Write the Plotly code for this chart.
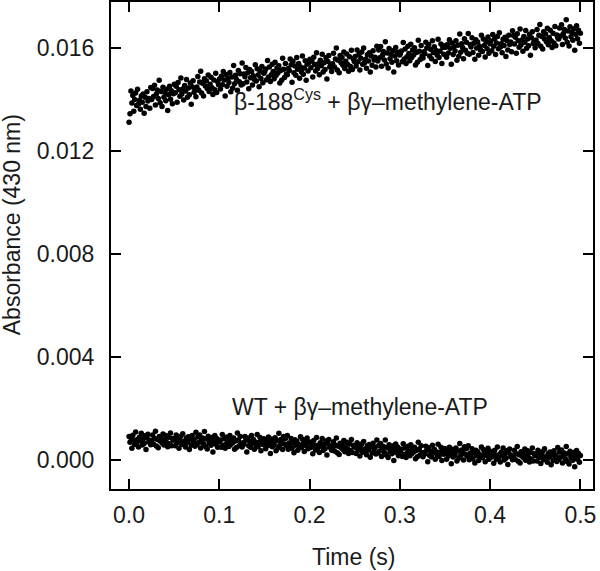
import numpy as np
import plotly.graph_objects as go

# Absorbance values, in units of 1e-5 absorbance,
# in time order (uniform sampling 0 - 0.5 s)
beta188_abs_1e5 = [
    1312, 1345, 1433, 1387, 1416, 1355, 1400, 1425, 1377, 1440, 1383, 1397, 1362, 1414, 1390, 1422, 1347, 1409, 1373, 1430, 1394, 1404, 1366, 1447,
    1400, 1443, 1412, 1456, 1379, 1422, 1437, 1404, 1475, 1388, 1431, 1373, 1448, 1409, 1426, 1395, 1440, 1357, 1419, 1452, 1401, 1434, 1384, 1423,
    1459, 1426, 1452, 1390, 1466, 1438, 1413, 1484, 1422, 1441, 1398, 1455, 1433, 1478, 1409, 1445, 1419, 1464, 1382, 1450, 1473, 1428, 1436, 1411,
    1449, 1490, 1436, 1468, 1510, 1425, 1463, 1414, 1481, 1453, 1473, 1443, 1495, 1431, 1459, 1487, 1446, 1420, 1476, 1438, 1502, 1427, 1469, 1458,
    1480, 1441, 1491, 1458, 1509, 1476, 1414, 1497, 1452, 1483, 1466, 1505, 1430, 1488, 1445, 1532, 1461, 1494, 1479, 1436, 1513, 1469, 1500, 1457,
    1542, 1461, 1499, 1489, 1525, 1468, 1504, 1442, 1517, 1485, 1509, 1457, 1492, 1478, 1535, 1472, 1520, 1495, 1450, 1511, 1482, 1528, 1465, 1502,
    1508, 1519, 1477, 1552, 1488, 1526, 1470, 1496, 1537, 1509, 1481, 1545, 1493, 1523, 1503, 1531, 1464, 1513, 1475, 1560, 1518, 1486, 1540, 1499,
    1496, 1521, 1513, 1558, 1535, 1467, 1549, 1504, 1530, 1494, 1563, 1518, 1540, 1483, 1526, 1507, 1569, 1498, 1523, 1551, 1475, 1537, 1511, 1544,
    1557, 1524, 1550, 1488, 1564, 1536, 1511, 1582, 1520, 1539, 1496, 1553, 1531, 1576, 1507, 1543, 1517, 1562, 1480, 1548, 1571, 1526, 1534, 1509,
    1539, 1580, 1526, 1558, 1600, 1515, 1553, 1504, 1571, 1543, 1563, 1533, 1585, 1521, 1549, 1577, 1536, 1510, 1566, 1528, 1592, 1517, 1559, 1548,
    1567, 1530, 1593, 1547, 1576, 1515, 1560, 1585, 1537, 1600, 1543, 1557, 1522, 1574, 1550, 1582, 1507, 1569, 1533, 1590, 1554, 1564, 1526, 1607,
    1550, 1593, 1562, 1606, 1529, 1572, 1587, 1554, 1625, 1538, 1581, 1523, 1598, 1559, 1576, 1545, 1590, 1507, 1569, 1602, 1551, 1584, 1534, 1573,
    1578, 1589, 1547, 1622, 1558, 1596, 1540, 1566, 1607, 1579, 1551, 1615, 1563, 1593, 1573, 1601, 1534, 1583, 1545, 1630, 1588, 1556, 1610, 1569,
    1561, 1586, 1578, 1623, 1600, 1532, 1614, 1569, 1595, 1559, 1628, 1583, 1605, 1548, 1591, 1572, 1634, 1563, 1588, 1616, 1540, 1602, 1576, 1609,
    1603, 1564, 1614, 1581, 1632, 1599, 1537, 1620, 1575, 1606, 1589, 1628, 1553, 1611, 1568, 1655, 1584, 1617, 1602, 1559, 1636, 1592, 1623, 1580,
    1657, 1576, 1614, 1604, 1640, 1583, 1619, 1557, 1632, 1600, 1624, 1572, 1607, 1593, 1650, 1587, 1635, 1610, 1565, 1626, 1597, 1643, 1580, 1617,
    1627, 1590, 1653, 1607, 1636, 1575, 1620, 1645, 1597, 1660, 1603, 1617, 1582, 1634, 1610, 1642, 1567, 1629, 1593, 1650, 1614, 1624, 1586, 1667,
    1649, 1616, 1642, 1580, 1656, 1628, 1603, 1674, 1612, 1631, 1588, 1645, 1623, 1668, 1599, 1635, 1609, 1654, 1572, 1640, 1663, 1618, 1626, 1601,
    1631, 1672, 1618, 1650, 1692, 1607, 1645, 1596, 1663, 1635, 1655, 1625, 1677, 1613, 1641, 1669, 1628, 1602, 1658, 1620, 1684, 1609, 1651, 1640,
    1635, 1678, 1647, 1691, 1614, 1657, 1672, 1639, 1710, 1623, 1666, 1608, 1683, 1644, 1661, 1630, 1675, 1592, 1654, 1687, 1636, 1669, 1619, 1658,
]

wt_abs_1e5 = [
    91, 69, 86, 45, 96, 77, 60, 108, 66, 79, 50, 88, 74, 104, 58, 82, 64, 94, 40, 85, 100, 70, 76, 59,
    70, 97, 61, 83, 111, 54, 79, 47, 91, 73, 86, 66, 101, 58, 77, 95, 68, 51, 88, 63, 105, 55, 83, 76,
    80, 55, 97, 67, 86, 45, 75, 92, 60, 102, 64, 73, 50, 85, 69, 90, 40, 81, 57, 95, 71, 78, 53, 107,
    60, 89, 68, 97, 46, 75, 85, 63, 110, 52, 81, 42, 92, 66, 77, 57, 87, 31, 73, 95, 61, 83, 49, 75,
    70, 77, 49, 99, 57, 82, 45, 62, 89, 71, 52, 95, 60, 80, 67, 85, 41, 73, 48, 105, 77, 55, 91, 64,
    50, 67, 61, 91, 76, 31, 85, 55, 73, 49, 95, 65, 79, 41, 70, 57, 99, 51, 68, 87, 36, 77, 60, 82,
    69, 43, 77, 55, 89, 67, 25, 81, 51, 71, 60, 86, 36, 75, 46, 104, 57, 79, 69, 40, 91, 62, 83, 54,
    95, 41, 66, 59, 83, 45, 69, 28, 78, 57, 73, 38, 61, 52, 90, 48, 80, 63, 33, 74, 55, 85, 43, 68,
    70, 48, 65, 24, 75, 56, 39, 87, 45, 58, 29, 67, 53, 83, 37, 61, 43, 73, 19, 64, 79, 49, 55, 38,
    44, 71, 35, 57, 85, 28, 53, 21, 65, 47, 60, 40, 75, 32, 51, 69, 42, 25, 62, 37, 79, 29, 57, 50,
    50, 25, 67, 37, 56, 15, 45, 62, 30, 72, 34, 43, 20, 55, 39, 60, 10, 51, 27, 65, 41, 48, 23, 77,
    27, 56, 35, 64, 13, 42, 52, 30, 77, 19, 48, 9, 59, 33, 44, 24, 54, -2, 40, 62, 28, 50, 16, 42,
    34, 41, 13, 63, 21, 46, 9, 26, 53, 35, 16, 59, 24, 44, 31, 49, 5, 37, 12, 69, 41, 19, 55, 28,
    12, 29, 23, 53, 38, -7, 47, 17, 35, 11, 57, 27, 41, 3, 32, 19, 61, 13, 30, 49, -2, 39, 22, 44,
    29, 3, 37, 15, 49, 27, -15, 41, 11, 31, 20, 46, -4, 35, 6, 64, 17, 39, 29, 0, 51, 22, 43, 14,
    55, 1, 26, 19, 43, 5, 29, -12, 38, 17, 33, -2, 21, 12, 50, 8, 40, 23, -7, 34, 15, 45, 3, 28,
    33, 11, 28, -13, 38, 19, 2, 50, 8, 21, -8, 30, 16, 46, 0, 24, 6, 36, -18, 27, 42, 12, 18, 1,
    11, 38, 2, 24, 52, -5, 20, -12, 32, 14, 27, 7, 42, -1, 18, 36, 9, -8, 29, 4, 46, -4, 24, 17,
    21, -4, 38, 8, 27, -14, 16, 33, 1, 43, 5, 14, -9, 26, 10, 31, -19, 22, -2, 36, 12, 19, -6, 48,
    2, 31, 10, 39, -12, 17, 27, 5, 52, -6, 23, -16, 34, 8, 19, -1, 29, -27, 15, 37, 3, 25, -9, 17,
]

# uniform instrument sampling from 0 to 0.5 s
t_start, t_end = 0.0, 0.5
time_beta = np.linspace(t_start, t_end, len(beta188_abs_1e5))
time_wt = np.linspace(t_start, t_end, len(wt_abs_1e5))

x_ticks = [0.0, 0.1, 0.2, 0.3, 0.4, 0.5]
x_ticklabels = ["0.0", "0.1", "0.2", "0.3", "0.4", "0.5"]
y_ticks = [0.000, 0.004, 0.008, 0.012, 0.016]
y_ticklabels = ["0.000", "0.004", "0.008", "0.012", "0.016"]

label_beta = "β-188<sup>Cys</sup> + βγ–methylene-ATP"
label_wt = "WT + βγ–methylene-ATP"
x_title = "Time (s)"
y_title = "Absorbance (430 nm)"

FONT = "Liberation Sans, Arial, sans-serif"
TXT = "#1a1a1a"
FS = 23

fig = go.Figure()
marker = dict(color="black", size=5.5, line=dict(width=0))
fig.add_trace(go.Scatter(x=time_beta, y=np.array(beta188_abs_1e5) * 1e-5,
                         mode="markers", marker=marker, showlegend=False))
fig.add_trace(go.Scatter(x=time_wt, y=np.array(wt_abs_1e5) * 1e-5,
                         mode="markers", marker=marker, showlegend=False))

fig.add_annotation(x=0.287, y=0.01398, text=label_beta, showarrow=False,
                   font=dict(size=FS, color=TXT, family=FONT))
fig.add_annotation(x=0.256, y=0.00206, text=label_wt, showarrow=False,
                   font=dict(size=FS, color=TXT, family=FONT))

# axis titles placed as paper annotations
fig.add_annotation(xref="paper", yref="paper", x=0.504, y=-0.1396, text=x_title,
                   xanchor="center", yanchor="middle",
                   showarrow=False, font=dict(size=FS, color=TXT, family=FONT))
fig.add_annotation(xref="paper", yref="paper", x=-0.205, y=0.542, text=y_title,
                   xanchor="center", yanchor="middle",
                   textangle=-90, showarrow=False, font=dict(size=FS, color=TXT, family=FONT))

axis_common = dict(
    showline=True, linecolor="black", linewidth=2, mirror="ticks",
    ticks="inside", ticklen=10, tickwidth=2, tickcolor="black",
    showgrid=False, zeroline=False, automargin=False,
    tickfont=dict(size=FS, color=TXT, family=FONT),
)

fig.update_xaxes(range=[-0.02, 0.514], tickvals=x_ticks, ticktext=x_ticklabels,
                 ticklabelstandoff=4, **axis_common)
fig.update_yaxes(range=[-0.00113, 0.01779], tickvals=y_ticks, ticktext=y_ticklabels,
                 ticklabelstandoff=10, **axis_common)

fig.update_layout(
    width=600, height=571,
    margin=dict(l=111, r=7, t=2, b=82),
    plot_bgcolor="white", paper_bgcolor="white",
)

fig.write_html("out.html", config={"displayModeBar": False},
               post_script="document.body.style.margin='0';document.body.style.overflow='hidden';")
